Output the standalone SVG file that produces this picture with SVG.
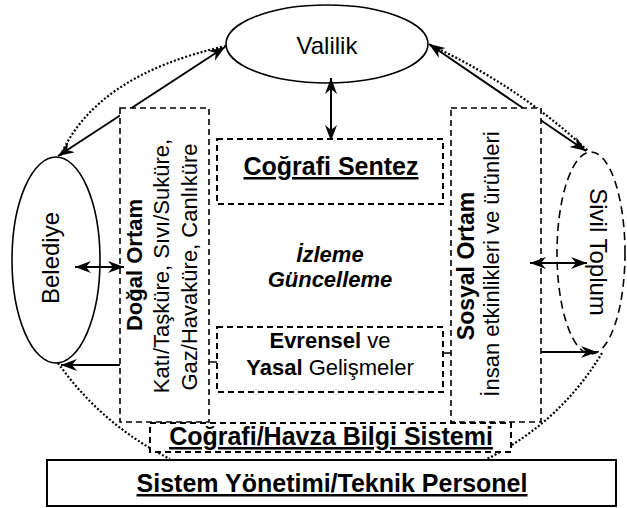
<svg xmlns="http://www.w3.org/2000/svg" width="627" height="508" viewBox="0 0 627 508">
<style>
text{font-family:"Liberation Sans",Arial,sans-serif;fill:#000}
.t24{font-size:24px}
.t25{font-size:25px}
.t22{font-size:22px}
.b{font-weight:bold}
.u{text-decoration:underline}
.m{text-anchor:middle}
.box{fill:#fff;stroke:#000;stroke-width:1.6;stroke-dasharray:6 4}
.ell{fill:none;stroke:#000;stroke-width:1.6}
.con{fill:none;stroke:#000;stroke-width:2}
.dot{fill:none;stroke:#000;stroke-width:2.2;stroke-dasharray:2 2}
</style>
<defs>
<marker id="ah" markerUnits="userSpaceOnUse" markerWidth="17" markerHeight="13" refX="16" refY="6" orient="auto-start-reverse">
<path d="M0,0 L16,6 L0,12 L5,6 z" fill="#000"/>
</marker>
</defs>
<g id="connectors">
<path class="dot" d="M226,46 Q95,75 60,157"/>
<path class="dot" d="M430,45 Q519,86 588,151"/>
<path class="dot" d="M58,363 Q102,425 170,459"/>
<path class="dot" d="M602,353 Q560,423 485,460"/>
<line class="con" x1="58" y1="156" x2="225" y2="47" marker-start="url(#ah)" marker-end="url(#ah)"/>
<line class="con" x1="429" y1="44" x2="586" y2="151" marker-start="url(#ah)" marker-end="url(#ah)"/>
<line class="con" x1="331" y1="78" x2="331" y2="141" marker-start="url(#ah)" marker-end="url(#ah)"/>
<line class="con" x1="120" y1="365" x2="61" y2="365" marker-end="url(#ah)"/>
<line class="con" x1="541" y1="352" x2="597" y2="352" marker-end="url(#ah)"/>
</g>
<g id="valilik">
<ellipse class="ell" cx="327" cy="44" rx="101" ry="39"/>
<text class="t24 m" x="327" y="54">Valilik</text>
</g>
<g id="belediye">
<ellipse class="ell" cx="56" cy="260" rx="44" ry="103"/>
<text class="t24 m" transform="translate(59,258) rotate(-90)">Belediye</text>
</g>
<g id="sivil-toplum">
<ellipse class="ell" cx="591" cy="253" rx="34" ry="101" style="stroke-dasharray:8 5"/>
<text class="t24 m" transform="translate(590,252) rotate(90)">Sivil Toplum</text>
</g>
<g id="dogal-ortam">
<rect class="box" x="120" y="108" width="89" height="314"/>
<text class="t22 b m" transform="translate(142,265) rotate(-90)">Doğal Ortam</text>
<text class="t22 m" transform="translate(169,266) rotate(-90)">Katı/Taşküre, Sıvı/Suküre,</text>
<text class="t22 m" transform="translate(197,267) rotate(-90)">Gaz/Havaküre, Canlıküre</text>
</g>
<g id="sosyal-ortam">
<rect class="box" x="451" y="108" width="90" height="314"/>
<text class="t22 b m" transform="translate(474,266) rotate(-90)" style="font-size:23px">Sosyal Ortam</text>
<text class="t22 m" transform="translate(499,264) rotate(-90)">İnsan etkinlikleri ve ürünleri</text>
</g>
<g id="cografi-sentez">
<rect class="box" x="217" y="139" width="226" height="65" style="stroke-width:2"/>
<text class="t25 b u m" x="331" y="175">Coğrafi Sentez</text>
</g>
<g id="izleme">
<text class="t22 b m" x="330" y="262" font-style="italic">İzleme</text>
<text class="t22 b m" x="330" y="287" font-style="italic">Güncelleme</text>
</g>
<g id="evrensel">
<rect class="box" x="217" y="327" width="226" height="65" style="stroke-width:2"/>
<text class="t22 m" x="330" y="348"><tspan class="b">Evrensel</tspan> ve</text>
<text class="t22 m" x="330" y="375"><tspan class="b">Yasal</tspan> Gelişmeler</text>
</g>
<g id="cografi-havza">
<rect class="box" x="150" y="423" width="361" height="29" style="stroke-width:2"/>
<text class="t25 b u m" x="331" y="445">Coğrafi/Havza Bilgi Sistemi</text>
</g>
<g id="sistem-yonetimi">
<rect x="47" y="460" width="569" height="46" fill="#fff" stroke="#000" stroke-width="2"/>
<text class="t25 b u m" x="332" y="492">Sistem Yönetimi/Teknik Personel</text>
</g>
<g id="ticks">
<line class="con" x1="209" y1="362" x2="217" y2="362" style="stroke-width:1.5"/>
<line class="con" x1="443" y1="353" x2="451" y2="353" style="stroke-width:1.5"/>
</g>
<g id="front-connectors">
<line class="con" x1="75" y1="267" x2="124" y2="267" marker-start="url(#ah)" marker-end="url(#ah)"/>
<line class="con" x1="530" y1="263" x2="587" y2="263" marker-start="url(#ah)" marker-end="url(#ah)"/>
</g>
</svg>
